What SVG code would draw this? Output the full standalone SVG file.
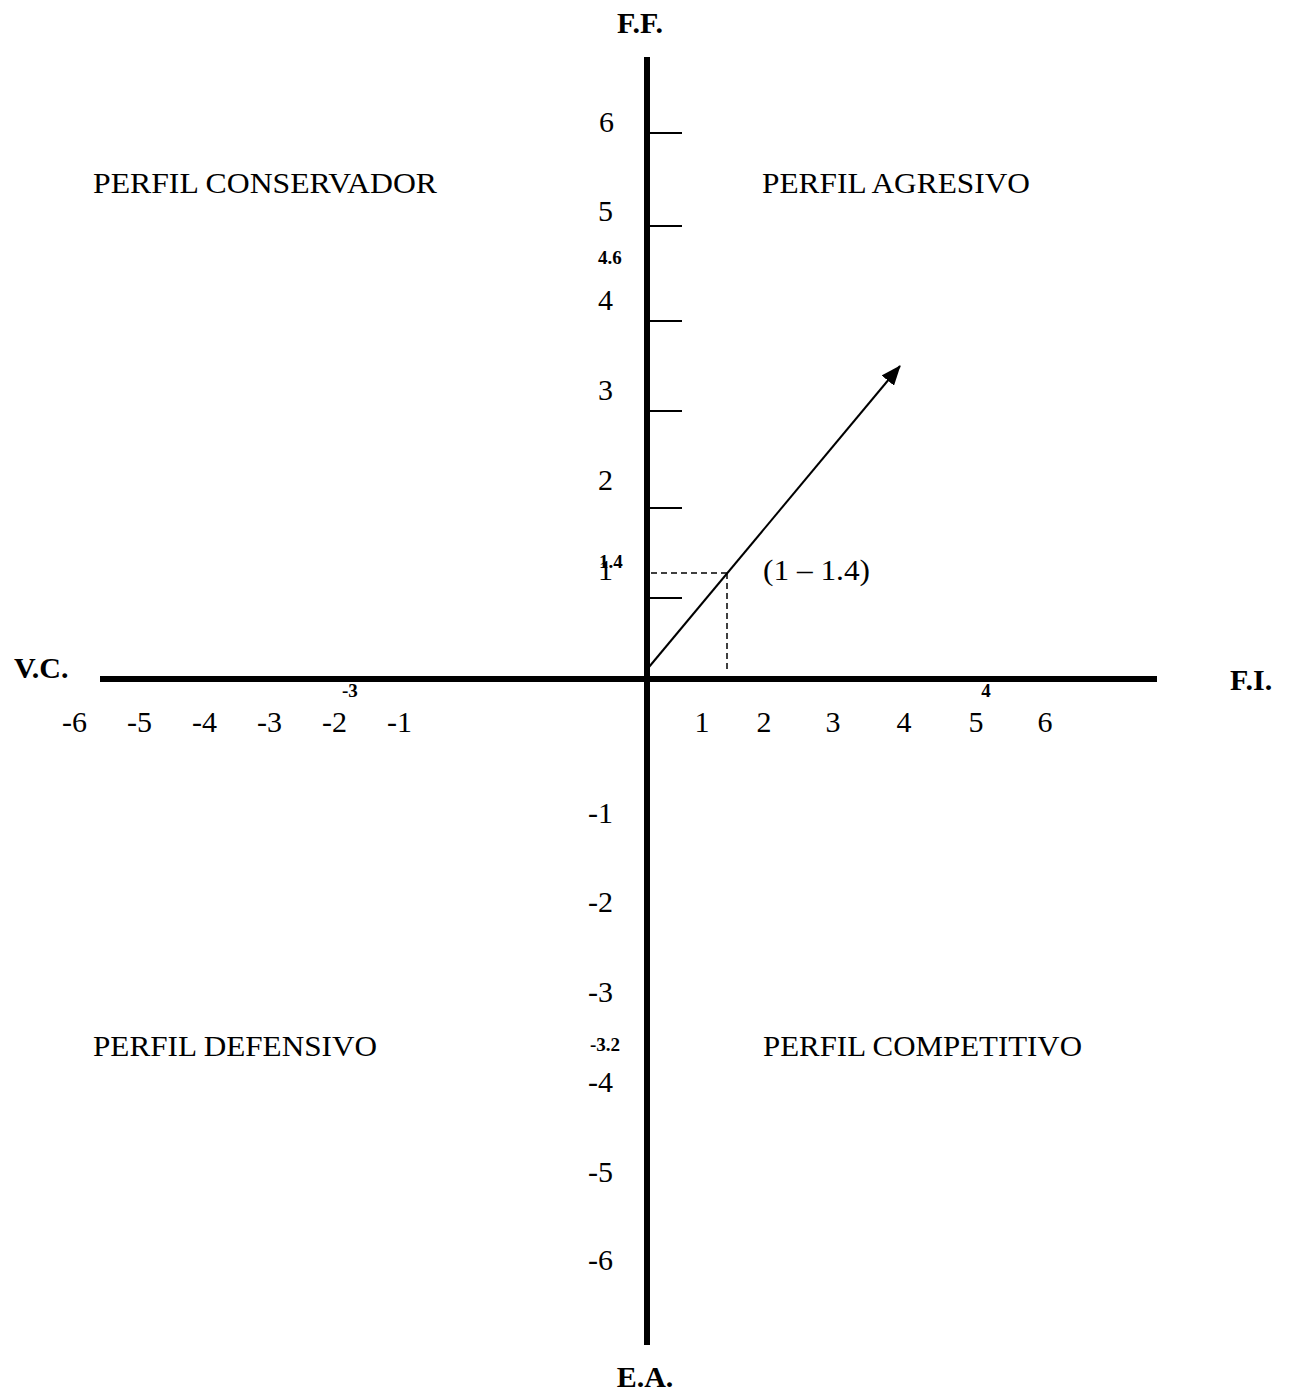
<svg xmlns="http://www.w3.org/2000/svg" width="1292" height="1393" viewBox="0 0 1292 1393">
<defs>
<style>
.t{font-family:"Liberation Serif","Times New Roman",serif;font-size:30px;fill:#000}
.b{font-family:"Liberation Serif","Times New Roman",serif;font-size:30px;font-weight:bold;fill:#000}
.s{font-family:"Liberation Serif","Times New Roman",serif;font-size:19px;font-weight:bold;fill:#000}
.ax{stroke:#000;stroke-width:6;fill:none}
.tk{stroke:#000;stroke-width:2;fill:none}
.ds{stroke:#000;stroke-width:1.5;stroke-dasharray:6 4;fill:none}
</style>
<marker id="ah" markerWidth="20" markerHeight="16" refX="19" refY="8" orient="auto" markerUnits="userSpaceOnUse" viewBox="0 0 20 16">
<path d="M0,0 L20,8 L0,16 Z" fill="#000"/>
</marker>
</defs>
<rect width="1292" height="1393" fill="#fff"/>
<g id="connectors">
<line class="ax" x1="647" y1="57" x2="647" y2="1345"/>
<line class="ax" x1="100" y1="679" x2="1157" y2="679"/>
<line class="tk" x1="649" y1="133" x2="682" y2="133"/>
<line class="tk" x1="649" y1="226" x2="682" y2="226"/>
<line class="tk" x1="649" y1="321" x2="682" y2="321"/>
<line class="tk" x1="649" y1="411" x2="682" y2="411"/>
<line class="tk" x1="649" y1="508" x2="682" y2="508"/>
<line class="tk" x1="649" y1="598" x2="682" y2="598"/>
<line class="ds" x1="651" y1="573" x2="727" y2="573"/>
<line class="ds" x1="727" y1="573" x2="727" y2="672"/>
<line x1="649" y1="667" x2="900" y2="366" stroke="#000" stroke-width="2" marker-end="url(#ah)"/>
</g>
<g id="axis-labels">
<text class="b" x="640" y="33" text-anchor="middle">F.F.</text>
<text class="b" x="645" y="1387" text-anchor="middle">E.A.</text>
<text class="b" x="14" y="678">V.C.</text>
<text class="b" x="1230" y="690">F.I.</text>
</g>
<g id="quadrants">
<text class="t" x="93" y="193" textLength="344" lengthAdjust="spacingAndGlyphs">PERFIL CONSERVADOR</text>
<text class="t" x="762" y="193" textLength="268" lengthAdjust="spacingAndGlyphs">PERFIL AGRESIVO</text>
<text class="t" x="93" y="1056" textLength="284" lengthAdjust="spacingAndGlyphs">PERFIL DEFENSIVO</text>
<text class="t" x="763" y="1056" textLength="319" lengthAdjust="spacingAndGlyphs">PERFIL COMPETITIVO</text>
</g>
<g id="point-label">
<text class="t" x="763" y="580" textLength="107" lengthAdjust="spacingAndGlyphs">(1 – 1.4)</text>
</g>
<g id="y-ticks">
<text class="t" x="614" y="132" text-anchor="end">6</text>
<text class="t" x="613" y="221" text-anchor="end">5</text>
<text class="s" x="598" y="264">4.6</text>
<text class="t" x="613" y="310" text-anchor="end">4</text>
<text class="t" x="613" y="400" text-anchor="end">3</text>
<text class="t" x="613" y="490" text-anchor="end">2</text>
<text class="t" x="613" y="580" text-anchor="end">1</text>
<text class="s" x="599" y="568">1.4</text>
<text class="t" x="613" y="823" text-anchor="end">-1</text>
<text class="t" x="613" y="912" text-anchor="end">-2</text>
<text class="t" x="613" y="1002" text-anchor="end">-3</text>
<text class="s" x="590" y="1051">-3.2</text>
<text class="t" x="613" y="1092" text-anchor="end">-4</text>
<text class="t" x="613" y="1182" text-anchor="end">-5</text>
<text class="t" x="613" y="1270" text-anchor="end">-6</text>
</g>
<g id="x-ticks">
<text class="t" x="62" y="732">-6</text>
<text class="t" x="127" y="732">-5</text>
<text class="t" x="192" y="732">-4</text>
<text class="t" x="257" y="732">-3</text>
<text class="t" x="322" y="732">-2</text>
<text class="t" x="387" y="732">-1</text>
<text class="s" x="342" y="697">-3</text>
<text class="t" x="702" y="732" text-anchor="middle">1</text>
<text class="t" x="764" y="732" text-anchor="middle">2</text>
<text class="t" x="833" y="732" text-anchor="middle">3</text>
<text class="t" x="904" y="732" text-anchor="middle">4</text>
<text class="t" x="976" y="732" text-anchor="middle">5</text>
<text class="t" x="1045" y="732" text-anchor="middle">6</text>
<text class="s" x="986" y="697" text-anchor="middle">4</text>
</g>
</svg>
